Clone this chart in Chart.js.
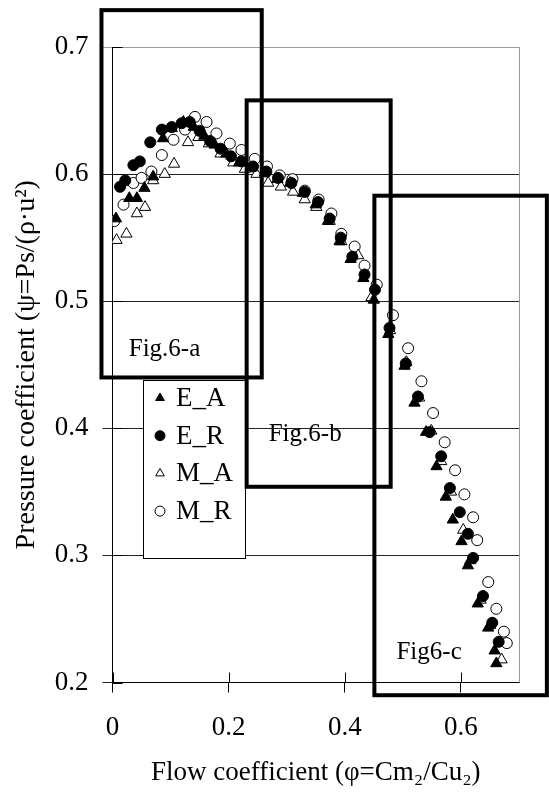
<!DOCTYPE html>
<html>
<head>
<meta charset="utf-8">
<script src="https://cdn.jsdelivr.net/npm/chart.js@4/dist/chart.umd.min.js"></script>
<style>
  html, body { margin: 0; padding: 0; background: #fff; }
  #wrap { width: 549px; height: 793px; position: relative; }
</style>
</head>
<body>
<div id="wrap"><canvas id="psiChart"></canvas></div>
<script>
// axis ticks
const xTicks = [0, 0.2, 0.4, 0.6];
const yTicks = [0.2, 0.3, 0.4, 0.5, 0.6, 0.7];

// series: flow coefficient (phi) and pressure coefficient (psi)
const seriesNames = ['E_A', 'E_R', 'M_A', 'M_R'];

const eaPhi = [0.006,0.029,0.042,0.055,0.070,0.087,0.102,0.122,0.140,0.158,0.176,0.196,0.218,0.240,0.262,0.284,0.306,0.328,0.350,0.371,0.391,0.410,0.432,0.450,0.475,0.503,0.520,0.540,0.558,0.574,0.586,0.601,0.612,0.629,0.647,0.658,0.661];
const eaPsi = [0.565,0.581,0.581,0.589,0.598,0.628,0.636,0.641,0.637,0.630,0.623,0.616,0.609,0.605,0.601,0.596,0.593,0.585,0.576,0.563,0.547,0.533,0.518,0.501,0.474,0.449,0.420,0.397,0.370,0.346,0.328,0.311,0.292,0.262,0.243,0.225,0.215];

const erPhi = [0.013,0.022,0.036,0.047,0.065,0.085,0.102,0.119,0.133,0.150,0.168,0.186,0.204,0.222,0.242,0.265,0.285,0.308,0.331,0.354,0.374,0.393,0.413,0.434,0.452,0.477,0.505,0.526,0.546,0.566,0.581,0.598,0.612,0.621,0.638,0.654,0.665];
const erPsi = [0.590,0.595,0.607,0.610,0.625,0.635,0.637,0.640,0.641,0.634,0.626,0.620,0.614,0.610,0.606,0.602,0.597,0.593,0.586,0.578,0.565,0.550,0.535,0.521,0.509,0.479,0.451,0.425,0.397,0.378,0.353,0.334,0.317,0.298,0.268,0.247,0.232];

const maPhi = [0.007,0.024,0.042,0.056,0.070,0.090,0.106,0.130,0.148,0.166,0.186,0.208,0.228,0.248,0.268,0.290,0.311,0.331,0.351,0.374,0.394,0.423,0.446,0.478,0.506,0.528,0.549,0.566,0.583,0.604,0.616,0.634,0.650,0.670];
const maPsi = [0.548,0.553,0.569,0.574,0.595,0.600,0.608,0.625,0.629,0.624,0.616,0.609,0.604,0.600,0.593,0.590,0.586,0.580,0.574,0.563,0.547,0.536,0.503,0.477,0.452,0.424,0.398,0.374,0.350,0.320,0.296,0.265,0.245,0.218];

const mrPhi = [0.003,0.019,0.036,0.050,0.067,0.085,0.105,0.125,0.142,0.162,0.179,0.202,0.222,0.245,0.266,0.288,0.310,0.331,0.355,0.377,0.394,0.417,0.434,0.455,0.483,0.509,0.532,0.552,0.572,0.590,0.606,0.621,0.628,0.647,0.661,0.674,0.679];
const mrPsi = [0.563,0.576,0.593,0.597,0.602,0.615,0.627,0.635,0.645,0.641,0.632,0.624,0.619,0.612,0.606,0.599,0.596,0.587,0.580,0.569,0.553,0.543,0.528,0.513,0.489,0.463,0.437,0.412,0.389,0.367,0.348,0.330,0.312,0.279,0.258,0.240,0.231];

// zoom-in frames drawn over the chart (in axis units)
const frameLabels = ['Fig.6-a', 'Fig.6-b', 'Fig6-c'];
const frameX0 = [-0.019, 0.231, 0.451];
const frameX1 = [0.257, 0.479, 0.748];
const frameTop = [0.729, 0.658, 0.583];
const frameBottom = [0.440, 0.354, 0.190];
const frameTextX = [0.028, 0.269, 0.489];
const frameTextY = [0.462, 0.395, 0.224];

const FONT = "'Liberation Serif', 'Times New Roman', serif";

function pts(xs, ys) {
    return xs.map((v, i) => ({ x: v, y: ys[i] }));
}

function marker(ctx, style, filled, x, y, r) {
    ctx.beginPath();
    if (style === 'triangle') {
        ctx.moveTo(x, y - r);
        ctx.lineTo(x + r * 0.866, y + r * 0.5);
        ctx.lineTo(x - r * 0.866, y + r * 0.5);
        ctx.closePath();
    } else {
        ctx.arc(x, y, r, 0, Math.PI * 2);
    }
    ctx.fillStyle = filled ? '#000' : '#fff';
    ctx.fill();
    ctx.lineWidth = 1;
    ctx.strokeStyle = '#000';
    ctx.stroke();
}

const overlay = {
    id: 'overlay',
    afterDatasetsDraw(chart) {
        const { ctx, chartArea: a, scales: { x, y } } = chart;
        ctx.save();
        // plot area right border
        ctx.strokeStyle = '#999';
        ctx.lineWidth = 1;
        ctx.beginPath();
        ctx.moveTo(Math.round(a.right) + 0.5, a.top);
        ctx.lineTo(Math.round(a.right) + 0.5, a.bottom);
        ctx.stroke();
        // inner halves of tick marks
        ctx.strokeStyle = '#000';
        ctx.beginPath();
        xTicks.forEach(v => {
            const px = Math.round(x.getPixelForValue(v)) + 0.5;
            ctx.moveTo(px, a.bottom);
            ctx.lineTo(px, a.bottom - 10);
        });
        yTicks.forEach(v => {
            const py = Math.round(y.getPixelForValue(v)) + 0.5;
            ctx.moveTo(a.left, py);
            ctx.lineTo(a.left + 10, py);
        });
        ctx.stroke();

        // legend
        const lx = 143.5, ly = 380.5, lw = 102, lh = 178;
        ctx.fillStyle = '#fff';
        ctx.fillRect(lx, ly, lw, lh);
        ctx.strokeStyle = '#000';
        ctx.strokeRect(lx, ly, lw, lh);
        ctx.font = '27px ' + FONT;
        ctx.textBaseline = 'middle';
        chart.data.datasets.forEach((ds, i) => {
            const cy = 398 + i * 37.7;
            marker(ctx, ds.pointStyle, ds.backgroundColor === '#000', 160, cy, 5);
            ctx.fillStyle = '#000';
            ctx.fillText(ds.label, 176, cy + 1);
        });
        ctx.restore();
    },
    afterDraw(chart) {
        const { ctx, scales: { x, y } } = chart;
        ctx.save();
        ctx.strokeStyle = '#000';
        ctx.lineWidth = 4;
        frameLabels.forEach((t, i) => {
            const x0 = x.getPixelForValue(frameX0[i]);
            const x1 = x.getPixelForValue(frameX1[i]);
            const y0 = y.getPixelForValue(frameTop[i]);
            const y1 = y.getPixelForValue(frameBottom[i]);
            ctx.strokeRect(x0, y0, x1 - x0, y1 - y0);
        });
        ctx.fillStyle = '#000';
        ctx.font = '25px ' + FONT;
        ctx.textBaseline = 'middle';
        ctx.textAlign = 'left';
        frameLabels.forEach((t, i) => {
            ctx.fillText(t, x.getPixelForValue(frameTextX[i]), y.getPixelForValue(frameTextY[i]));
        });
        ctx.restore();
    }
};

const ctx = document.getElementById('psiChart').getContext('2d');
new Chart(ctx, {
    type: 'scatter',
    data: {
        datasets: [
            { label: seriesNames[0], data: pts(eaPhi, eaPsi), pointStyle: 'triangle', pointRadius: 6.5, backgroundColor: '#000', borderColor: '#000', borderWidth: 1, order: 1 },
            { label: seriesNames[1], data: pts(erPhi, erPsi), pointStyle: 'circle', pointRadius: 5.5, backgroundColor: '#000', borderColor: '#000', borderWidth: 1, order: 2 },
            { label: seriesNames[2], data: pts(maPhi, maPsi), pointStyle: 'triangle', pointRadius: 6.5, backgroundColor: '#fff', borderColor: '#000', borderWidth: 1, order: 3 },
            { label: seriesNames[3], data: pts(mrPhi, mrPsi), pointStyle: 'circle', pointRadius: 5.5, backgroundColor: '#fff', borderColor: '#000', borderWidth: 1, order: 4 }
        ]
    },
    options: {
        responsive: true,
        maintainAspectRatio: false,
        animation: false,
        layout: { padding: { left: 0, right: 30, top: 47, bottom: 0 } },
        plugins: {
            legend: { display: false },
            tooltip: { enabled: false }
        },
        scales: {
            x: {
                type: 'linear',
                min: 0,
                max: 0.7,
                afterBuildTicks: s => { s.ticks = xTicks.map(v => ({ value: v })); },
                afterFit: s => { s.height = 110.5; },
                border: { color: '#000', width: 1 },
                grid: { drawOnChartArea: false, drawTicks: true, tickLength: 10, color: '#000' },
                ticks: {
                    padding: 19,
                    color: '#000',
                    font: { family: FONT, size: 27, lineHeight: 1.2 },
                    callback: v => (v === 0 ? '0' : v.toFixed(1))
                },
                title: {
                    display: true,
                    text: 'Flow coefficient (φ=Cm₂/Cu₂)',
                    color: '#000',
                    font: { family: FONT, size: 27, lineHeight: 1.2 },
                    padding: { top: 0, bottom: 4 }
                }
            },
            y: {
                type: 'linear',
                min: 0.2,
                max: 0.7,
                afterBuildTicks: s => { s.ticks = yTicks.map(v => ({ value: v })); },
                afterFit: s => { s.width = 112.5; },
                border: { color: '#000', width: 1 },
                grid: {
                    drawTicks: true,
                    tickLength: 10,
                    color: c => (c.tick && c.tick.value === 0.7 ? '#999' : '#222')
                },
                ticks: {
                    padding: 14,
                    color: '#000',
                    font: { family: FONT, size: 27, lineHeight: 1.2 },
                    callback: v => v.toFixed(1)
                },
                title: {
                    display: true,
                    text: 'Pressure coefficient (ψ=Ps/(ρ·u²)',
                    color: '#000',
                    font: { family: FONT, size: 28, lineHeight: 1.2 },
                    padding: { top: 10, bottom: 0 }
                }
            }
        }
    },
    plugins: [overlay]
});
</script>
</body>
</html>
